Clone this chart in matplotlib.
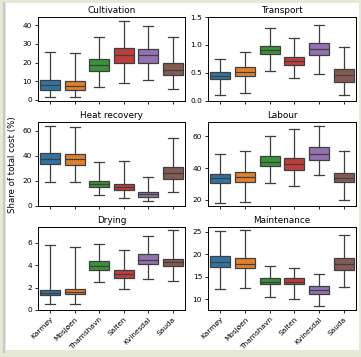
import matplotlib
matplotlib.use("Agg")
import matplotlib.pyplot as plt
from matplotlib.patches import Rectangle
from matplotlib.lines import Line2D

sites = ["Karmøy", "Mosjøen", "Thamshavn", "Salten", "Kvinesdal", "Sauda"]
colors = ["#3274a1", "#e1812c", "#3a923a", "#c03d3e", "#9372b2", "#845b53"]

# each row per site: (whislo, q1, median, q3, whishi)
cultivation = [(1.4, 5.5, 8.0, 10.5, 25.5), (1.4, 5.3, 7.5, 10.2, 25.0),
               (7.0, 15.5, 18.5, 22.0, 33.7), (9.0, 19.5, 24.0, 28.0, 42.3),
               (10.5, 20.0, 24.0, 27.5, 39.5), (6.0, 13.5, 16.0, 19.5, 34.0)]
transport = [(0.10, 0.38, 0.44, 0.51, 0.75), (0.14, 0.44, 0.52, 0.60, 0.87),
             (0.53, 0.83, 0.91, 0.98, 1.30), (0.40, 0.64, 0.71, 0.79, 1.13),
             (0.47, 0.81, 0.92, 1.03, 1.36), (0.09, 0.33, 0.45, 0.56, 0.96)]
heat_recovery = [(19.0, 33.0, 37.0, 42.0, 64.0), (18.5, 32.5, 37.0, 41.5, 63.0),
                 (8.7, 15.0, 17.5, 20.0, 34.7), (6.1, 12.7, 15.0, 17.5, 35.8),
                 (4.0, 7.0, 9.0, 10.6, 22.8), (10.6, 21.0, 25.8, 30.8, 54.4)]
labour = [(17.9, 30.4, 33.5, 36.2, 48.6), (19.0, 31.0, 34.2, 37.3, 50.6),
          (30.8, 41.3, 44.0, 47.6, 59.9), (28.8, 38.9, 42.5, 46.3, 64.3),
          (35.6, 45.1, 49.0, 53.2, 66.5), (20.2, 31.6, 34.0, 36.9, 50.6)]
drying = [(0.56, 1.30, 1.50, 1.74, 5.80), (0.56, 1.42, 1.60, 1.86, 5.65),
          (2.48, 3.55, 3.90, 4.35, 5.90), (1.86, 2.87, 3.25, 3.60, 5.38),
          (2.72, 4.09, 4.50, 4.97, 6.62), (2.60, 3.96, 4.30, 4.56, 7.09)]
maintenance = [(12.2, 17.05, 18.2, 19.6, 25.2), (12.4, 16.85, 17.9, 19.2, 25.4),
               (10.4, 13.4, 13.9, 14.7, 17.3), (9.9, 13.3, 13.9, 14.6, 17.0),
               (8.4, 11.2, 12.0, 12.9, 15.6), (12.75, 16.6, 17.9, 19.2, 24.4)]

panels = [("Cultivation", cultivation, (-0.4, 44.5), [0, 10, 20, 30, 40], None),
          ("Transport", transport, (0.0, 1.5), [0.0, 0.5, 1.0, 1.5], "%.1f"),
          ("Heat recovery", heat_recovery, (-0.3, 66.4), [0, 20, 40, 60], None),
          ("Labour", labour, (16.2, 68.7), [20, 40, 60], None),
          ("Drying", drying, (0.0, 7.4), [0, 2, 4, 6], None),
          ("Maintenance", maintenance, (7.55, 26.1), [10, 15, 20, 25], None)]

W, H = 361, 357
fig = plt.figure(figsize=(W / 100, H / 100), dpi=100)
fig.patch.set_facecolor("#e5e9d5")
fig.patches.append(Rectangle((6 / W, 1 - 350 / H), (359 - 6) / W, (350 - 3) / H,
                             transform=fig.transFigure, facecolor="white",
                             edgecolor="none", zorder=-2))
fig.lines.append(Line2D([4 / W, 4 / W], [1 - 352 / H, 1 - 3 / H], transform=fig.transFigure,
                        color="#c8c8c8", lw=1.5, zorder=-1))

col_x = [(38, 185), (208, 356)]
row_y = [(17, 100.5), (122.5, 206), (227, 310)]
gray = "#3f3f3f"

for i, (title, data, ylim, yt, fmt) in enumerate(panels):
    r, c = divmod(i, 2)
    x0, x1 = col_x[c]
    y0, y1 = row_y[r]
    ax = fig.add_axes([x0 / W, 1 - y1 / H, (x1 - x0) / W, (y1 - y0) / H])
    ax.set_zorder(2)
    stats = []
    for name, (lo, q1, med, q3, hi) in zip(sites, data):
        stats.append(dict(label=name, whislo=lo, q1=q1, med=med, q3=q3, whishi=hi, fliers=[]))
    bp = ax.bxp(stats, positions=range(len(sites)), widths=0.8, patch_artist=True,
                showfliers=False,
                boxprops=dict(edgecolor=gray, linewidth=0.9),
                whiskerprops=dict(color=gray, linewidth=0.9),
                capprops=dict(color=gray, linewidth=0.9),
                medianprops=dict(color=gray, linewidth=0.9))
    for patch, col in zip(bp["boxes"], colors):
        patch.set_facecolor(col)
    ax.set_xlim(-0.5, len(sites) - 0.5)
    ax.set_ylim(*ylim)
    ax.set_yticks(yt)
    if fmt:
        ax.set_yticklabels([fmt % v for v in yt])
    ax.set_xticks(range(len(sites)))
    if r == 2:
        ax.set_xticklabels(sites, rotation=45, ha="right", rotation_mode="anchor", fontsize=5.3)
    else:
        ax.set_xticklabels([])
    ax.tick_params(axis="both", labelsize=5.3, length=2.2, width=0.6, pad=2)
    for s in ax.spines.values():
        s.set_linewidth(0.7)
    ax.set_title(title, fontsize=6.4, pad=3)

fig.text(12.5 / W, 1 - 165 / H, "Share of total cost (%)", rotation=90,
         ha="center", va="center", fontsize=6.2)

fig.savefig("out.png", dpi=100, facecolor=fig.get_facecolor())
